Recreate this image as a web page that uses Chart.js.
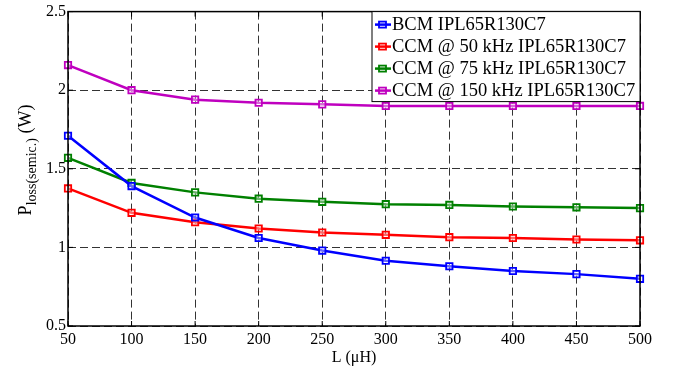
<!DOCTYPE html>
<html>
<head>
<meta charset="utf-8">
<script src="https://cdn.jsdelivr.net/npm/chart.js@4"></script>
<style>
  body { margin: 0; background: #fff; }
  #wrap { width: 676px; height: 367px; }
</style>
</head>
<body>
<div id="wrap"><canvas id="lossChart" width="676" height="367"></canvas></div>
<script>
// inductance values (uH)
var inductance = [50, 100, 150, 200, 250, 300, 350, 400, 450, 500];

// semiconductor losses (W)
var bcmLoss = [1.71, 1.39, 1.19, 1.06, 0.98, 0.915, 0.88, 0.85, 0.83, 0.80];
var ccm50Loss = [1.375, 1.22, 1.16, 1.12, 1.095, 1.08, 1.065, 1.06, 1.05, 1.045];
var ccm75Loss = [1.57, 1.41, 1.35, 1.31, 1.29, 1.275, 1.27, 1.26, 1.255, 1.25];
var ccm150Loss = [2.16, 2.0, 1.94, 1.92, 1.91, 1.90, 1.90, 1.90, 1.90, 1.90];

var seriesNames = ['BCM IPL65R130C7', 'CCM @ 50 kHz IPL65R130C7', 'CCM @ 75 kHz IPL65R130C7', 'CCM @ 150 kHz IPL65R130C7'];
var seriesColors = ['#0000ff', '#ff0000', '#008000', '#bf00bf'];
var yTicks = [0.5, 1, 1.5, 2, 2.5];

var serif = '"Liberation Serif", "Times New Roman", serif';

function toPoints(vals){
  return vals.map(function (v, i){ return { x: inductance[i], y: v }; });
}

function makeSet(label, vals, color){
  return {
    label: label,
    data: toPoints(vals),
    borderColor: color,
    backgroundColor: 'rgba(255,255,255,0.4)',
    pointBorderColor: color,
    borderWidth: 2.5,
    pointStyle: 'rect',
    pointRadius: 4.5,
    pointBorderWidth: 1.8,
    tension: 0,
    clip: false
  };
}

// box around the plot + small inner ticks + y label with subscript + legend in the corner
var extras = {
  id: 'extras',
  afterDraw: function (chart){
    var ctx = chart.ctx, a = chart.chartArea;
    var xs = chart.scales.x, ys = chart.scales.y;
    ctx.save();
    ctx.strokeStyle = '#000';
    ctx.lineWidth = 1.5;
    ctx.strokeRect(a.left, a.top, a.right - a.left, a.bottom - a.top);
    ctx.lineWidth = 1;
    inductance.forEach(function (v){
      var px = xs.getPixelForValue(v);
      ctx.beginPath();
      ctx.moveTo(px, a.bottom); ctx.lineTo(px, a.bottom - 5);
      ctx.moveTo(px, a.top); ctx.lineTo(px, a.top + 5);
      ctx.stroke();
    });
    yTicks.forEach(function (v){
      var py = ys.getPixelForValue(v);
      ctx.beginPath();
      ctx.moveTo(a.left, py); ctx.lineTo(a.left + 5, py);
      ctx.moveTo(a.right, py); ctx.lineTo(a.right - 5, py);
      ctx.stroke();
    });

    // y label
    ctx.translate(25, 160);
    ctx.rotate(-Math.PI / 2);
    ctx.fillStyle = '#000';
    ctx.textBaseline = 'alphabetic';
    ctx.font = '18px ' + serif;
    var w1 = ctx.measureText('P').width;
    ctx.font = '14px ' + serif;
    var w2 = ctx.measureText('loss(semic.)').width;
    ctx.font = '18px ' + serif;
    var w3 = ctx.measureText(' (W)').width;
    var x0 = -(w1 + w2 + w3) / 2;
    ctx.fillText('P', x0, 6);
    ctx.font = '14px ' + serif;
    ctx.fillText('loss(semic.)', x0 + w1, 11);
    ctx.font = '18px ' + serif;
    ctx.fillText(' (W)', x0 + w1 + w2, 6);
    ctx.restore();

    // legend
    ctx.save();
    var bx = 372, by = a.top, bw = a.right - bx, rowH = 22;
    var sets = chart.data.datasets;
    var bh = rowH * sets.length + 2;
    ctx.fillStyle = '#fff';
    ctx.fillRect(bx, by, bw, bh);
    ctx.strokeStyle = '#000';
    ctx.lineWidth = 1;
    ctx.strokeRect(bx, by, bw, bh);
    ctx.font = '18.5px ' + serif;
    ctx.textBaseline = 'middle';
    sets.forEach(function (ds, i){
      var cy = by + 13 + i * rowH;
      ctx.strokeStyle = ds.borderColor;
      ctx.lineWidth = 2.5;
      ctx.beginPath();
      ctx.moveTo(bx + 3, cy);
      ctx.lineTo(bx + 19, cy);
      ctx.stroke();
      ctx.lineWidth = 1.8;
      ctx.strokeRect(bx + 7, cy - 3, 7, 6);
      ctx.fillStyle = '#000';
      ctx.fillText(ds.label, bx + 20, cy + 1);
    });
    ctx.restore();
  }
};

var ctx = document.getElementById('lossChart');
var lossChart = new Chart(ctx, {
  type: 'line',
  data: {
    datasets: [
      makeSet(seriesNames[0], bcmLoss, seriesColors[0]),
      makeSet(seriesNames[1], ccm50Loss, seriesColors[1]),
      makeSet(seriesNames[2], ccm75Loss, seriesColors[2]),
      makeSet(seriesNames[3], ccm150Loss, seriesColors[3])
    ]
  },
  options: {
    responsive: false,
    animation: false,
    layout: { padding: { top: 8, right: 36, left: 0, bottom: 0 } },
    plugins: {
      legend: { display: false },
      tooltip: { enabled: false }
    },
    scales: {
      x: {
        type: 'linear',
        min: 50,
        max: 500,
        afterBuildTicks: function (scale){
          scale.ticks = inductance.map(function (v){ return { value: v }; });
        },
        grid: { color: '#333', lineWidth: 1, drawTicks: false },
        border: { display: false, dash: [8, 4] },
        ticks: { color: '#000', font: { family: serif, size: 16 }, padding: 4, maxRotation: 0 },
        title: { display: true, text: 'L (\u03bcH)', color: '#000', font: { family: serif, size: 16 }, padding: { top: -3, bottom: 0 } },
        afterFit: function (scale){ scale.height = 41; }
      },
      y: {
        min: 0.5,
        max: 2.5,
        afterBuildTicks: function (scale){
          scale.ticks = yTicks.map(function (v){ return { value: v }; });
        },
        grid: { color: '#333', lineWidth: 1, drawTicks: false },
        border: { display: false, dash: [8, 4] },
        ticks: {
          color: '#000', font: { family: serif, size: 16 }, padding: 2,
          callback: function (v){ return String(v); }
        },
        afterFit: function (scale){ scale.width = 68; }
      }
    }
  },
  plugins: [extras]
});
</script>
</body>
</html>
